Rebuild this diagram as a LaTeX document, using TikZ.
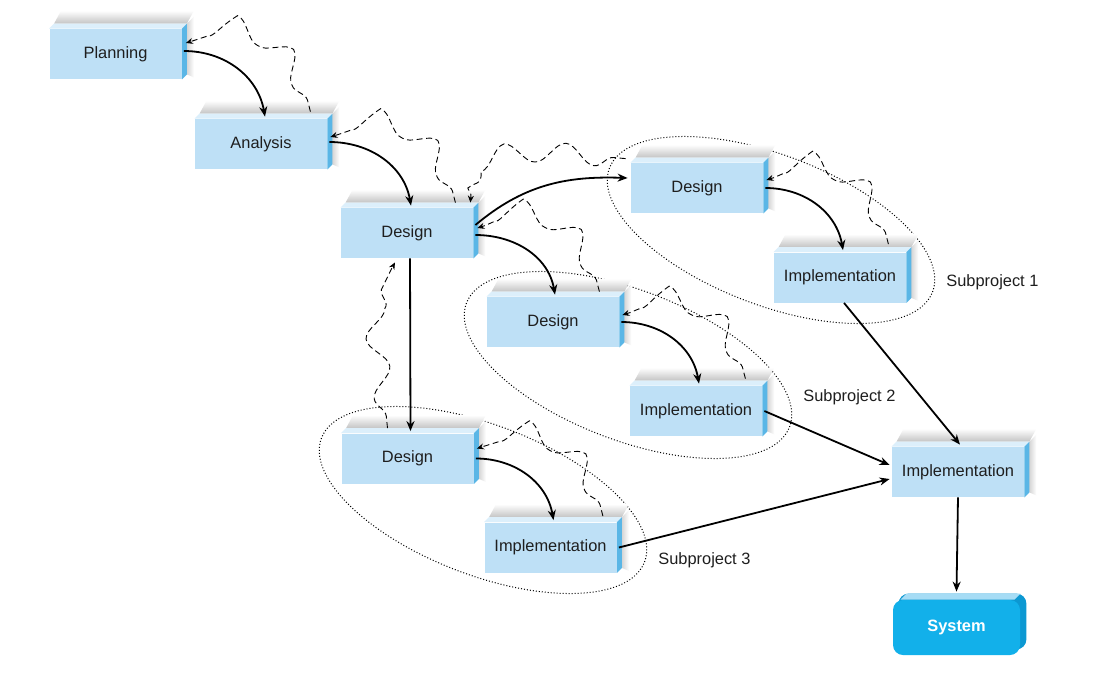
\documentclass[tikz,border=0pt]{standalone}
\usepackage{fontspec}
\setmainfont{Liberation Sans}
\usetikzlibrary{arrows.meta,decorations.pathmorphing,calc}
\pgfdeclarelayer{back}
\pgfdeclarelayer{bg}
\pgfsetlayers{back,bg,main}
\definecolor{front}{HTML}{BEE0F6}
\definecolor{sidec}{HTML}{5AB6E6}
\definecolor{topc}{HTML}{DCEFFB}
\definecolor{sysfill}{HTML}{12B0EA}
\definecolor{systop}{HTML}{A6DCF5}
\definecolor{sysside}{HTML}{0C98D2}
\definecolor{txt}{HTML}{1E1E1E}
\definecolor{shad}{HTML}{C4C4C4}
\newcommand\boxfaces[1]{%
  \shade[top color=white, bottom color=shad] ($(#1.north west)+(5,5)$) -- ($(#1.north west)+(12,18)$) -- ($(#1.north east)+(12,18)$) -- ($(#1.north east)+(5,5)$) -- cycle;
  \shade[left color=shad!70, right color=white] ($(#1.north east)+(5,5)$) -- ($(#1.north east)+(12,12)$) -- ($(#1.south east)+(12,2)$) -- ($(#1.south east)+(5,5)$) -- cycle;
  \fill[topc] (#1.north west) -- ($(#1.north west)+(5,5)$) -- ($(#1.north east)+(5,5)$) -- (#1.north east) -- cycle;
  \fill[sidec] (#1.north east) -- ($(#1.north east)+(5,5)$) -- ($(#1.south east)+(5,5)$) -- (#1.south east) -- cycle;}
\begin{document}
\begin{tikzpicture}[x=0.5pt,y=0.5pt,
  box/.style={fill=front, minimum width=66pt, minimum height=25pt, inner sep=0pt, text=txt,
    font=\fontsize{8.2pt}{10pt}\selectfont},
  sysbox/.style={fill=sysfill, rounded corners=5pt, minimum width=63.5pt, minimum height=27.5pt, inner sep=0pt,
    text=white, font=\fontsize{8.2pt}{10pt}\selectfont\bfseries},
  flow/.style={line width=0.9pt, -{Stealth[length=5pt,width=4pt]}},
  fb/.style={line width=0.45pt, dash pattern=on 3pt off 1.8pt, -{Stealth[length=3.5pt,width=3pt]},
    decorate, decoration={snake, amplitude=5pt, segment length=30pt, pre length=6pt, post length=4pt}},
  grp/.style={line width=0.5pt, dash pattern=on 0.5pt off 1pt},
  lab/.style={anchor=west, inner sep=0pt, text=txt, font=\fontsize{8.2pt}{10pt}\selectfont}]
\useasboundingbox (0,0) rectangle (1120,-692);
\begin{pgfonlayer}{back}
\fill[white] (0,0) rectangle (1120,-692);
\end{pgfonlayer}

% subproject ellipses
\begin{pgfonlayer}{bg}
\draw[grp,rotate around={-21:(771,-230)}] (771,-230) ellipse [x radius=173, y radius=75];
\draw[grp,rotate around={-21:(628,-365)}] (628,-365) ellipse [x radius=173, y radius=75];
\draw[grp,rotate around={-21:(483,-500)}] (483,-500) ellipse [x radius=173, y radius=75];
\end{pgfonlayer}

% boxes
\node[box] (pl) at (115.5,-54) {Planning};
\node[box] (an) at (261,-144) {Analysis};
\node[box] (d1) at (407,-233) {Design};
\node[box] (s1d) at (697,-188) {Design};
\node[box] (s1i) at (840,-277.5) {Implementation};
\node[box] (s2d) at (553,-322) {Design};
\node[box] (s2i) at (696,-411) {Implementation};
\node[box] (s3d) at (407.5,-458.5) {Design};
\node[box] (s3i) at (550.5,-547.5) {Implementation};
\node[box] (fin) at (958,-472) {Implementation};
\node[sysbox] (sys) at (956.5,-627.5) {System};
\begin{pgfonlayer}{bg}
\foreach \b in {pl,an,d1,s1d,s1i,s2d,s2i,s3d,s3i,fin} {\boxfaces{\b}}
\fill[sysside, rounded corners=5pt] ($(sys.south west)+(6,6)$) rectangle ($(sys.north east)+(6,6)$);
\fill[systop] ($(sys.north west)+(8,0)$) -- ($(sys.north west)+(14,6)$) -- ($(sys.north east)+(0,6)$) -- ($(sys.north east)+(-6,0)$) -- cycle;
\end{pgfonlayer}

% labels
\node[lab] (l1) at (946,-282) {Subproject 1};
\node[lab] (l2) at (803,-397) {Subproject 2};
\node[lab] (l3) at (658,-560) {Subproject 3};

% flow arrows
\draw[flow] ([shift={(2,3)}]pl.east) to[out=0,in=100] ([shift={(4,2)}]an.north);
\draw[flow] ([shift={(2,2)}]an.east) to[out=0,in=100] ([shift={(4,2)}]d1.north);
\draw[flow] ([shift={(2,8)}]d1.east) to[out=40,in=178] ([shift={(-3,10)}]s1d.west);
\draw[flow] ([shift={(2,-2)}]d1.east) to[out=0,in=100] ([shift={(2,2)}]s2d.north);
\draw[flow] ([xshift=1.5pt]d1.south) -- ([shift={(3,2)}]s3d.north);
\draw[flow] ([shift={(2,0)}]s1d.east) to[out=0,in=100] ([shift={(3,2)}]s1i.north);
\draw[flow] ([shift={(2,0)}]s2d.east) to[out=0,in=100] ([shift={(3,2)}]s2i.north);
\draw[flow] ([shift={(2,0)}]s3d.east) to[out=0,in=100] ([shift={(3,2)}]s3i.north);
\draw[flow] ([xshift=2pt]s1i.south) -- ([shift={(2,2)}]fin.north);
\draw[flow] ([shift={(2,0)}]s2i.east) -- ([shift={(-2,7)}]fin.west);
\draw[flow] ([shift={(2,0)}]s3i.east) -- ([shift={(-2,-7)}]fin.west);
\draw[flow] (fin.south) -- ([shift={(0,8)}]sys.north);

% feedback arrows
\draw[fb] ([shift={(-17,7)}]an.north east) to[out=100,in=20] ([shift={(4,11)}]pl.east);
\draw[fb] ([shift={(-18,5)}]d1.north east) to[out=100,in=20] ([shift={(3,7)}]an.east);
\draw[fb] ([shift={(-5,4)}]s1d.north west) to[out=175,in=90] ([shift={(-3,5)}]d1.north east);
\draw[fb] ([shift={(-20,5)}]s2d.north east) to[out=100,in=20] ([shift={(4,5)}]d1.east);
\draw[fb] ([shift={(-20,5)}]s3d.north) to[out=95,in=240] ([shift={(-12,-4)}]d1.south);
\draw[fb] ([shift={(-18,8)}]s1i.north east) to[out=100,in=20] ([shift={(3,8)}]s1d.east);
\draw[fb] ([shift={(-17,7)}]s2i.north east) to[out=100,in=20] ([shift={(3,7)}]s2d.east);
\draw[fb] ([shift={(-14,6)}]s3i.north east) to[out=100,in=20] ([shift={(3,10)}]s3d.east);
\end{tikzpicture}
\end{document}
